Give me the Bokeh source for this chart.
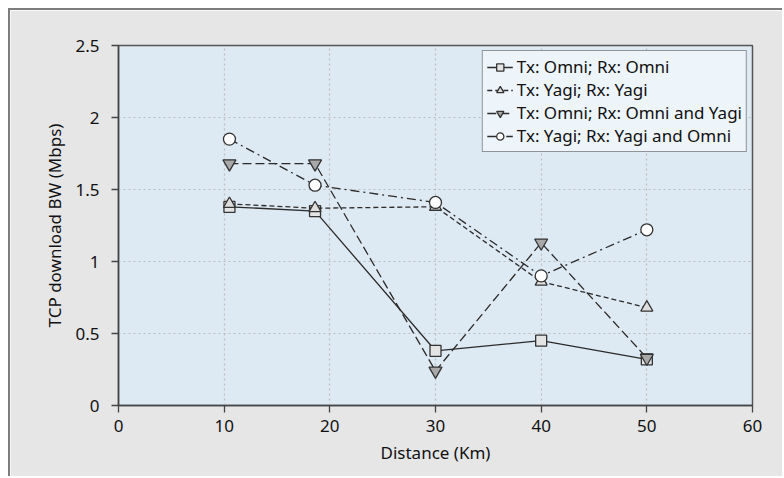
from bokeh.plotting import figure
from bokeh.models import Range1d, FixedTicker
from bokeh.embed import file_html
from bokeh.resources import INLINE

distance = [10.5, 18.6, 30, 40, 50]
omni_omni = [1.38, 1.35, 0.38, 0.45, 0.32]
yagi_yagi = [1.40, 1.37, 1.38, 0.86, 0.68]
omni_omniyagi = [1.68, 1.68, 0.24, 1.13, 0.33]
yagi_yagiomni = [1.85, 1.53, 1.41, 0.90, 1.22]

labels = ["Tx: Omni; Rx: Omni", "Tx: Yagi; Rx: Yagi",
          "Tx: Omni; Rx: Omni and Yagi", "Tx: Yagi; Rx: Yagi and Omni"]
x_ticks = [0, 10, 20, 30, 40, 50, 60]
y_ticks = [0, 0.5, 1, 1.5, 2, 2.5]

FONT = "Noto Sans"
INK = "#2b2b2b"

p = figure(width=774, height=468, output_backend="svg", toolbar_location=None,
           x_range=Range1d(0, 60), y_range=Range1d(0, 2.5),
           min_border_left=108, min_border_right=32, min_border_top=35, min_border_bottom=73)
p.styles = {"margin-left": "8px", "margin-top": "8px",
            "border-left": "2px solid #7d7d7d", "border-top": "2px solid #7d7d7d"}

p.background_fill_color = "#dde9f3"
p.border_fill_color = "#e6e6e7"
p.outline_line_color = "#555555"
p.outline_line_width = 1.5

p.xaxis.ticker = FixedTicker(ticks=x_ticks)
p.yaxis.ticker = FixedTicker(ticks=y_ticks)
for ax in (p.xaxis[0], p.yaxis[0]):
    ax.axis_line_color = "#444444"
    ax.axis_line_width = 1.5
    ax.major_tick_line_color = "#444444"
    ax.major_tick_line_width = 1.3
    ax.major_tick_out = 7
    ax.major_tick_in = 0
    ax.minor_tick_out = 0
    ax.minor_tick_in = 0
    ax.major_label_text_font = FONT
    ax.major_label_text_font_size = "17px"
    ax.major_label_text_color = "#111111"
    ax.axis_label_text_font = FONT
    ax.axis_label_text_font_size = "17px"
    ax.axis_label_text_font_style = "normal"
    ax.axis_label_text_color = "#111111"
p.xaxis.axis_label = "Distance (Km)"
p.yaxis.axis_label = "TCP download BW (Mbps)"
p.xaxis.major_label_standoff = 7
p.yaxis.major_label_standoff = 12
p.xaxis.axis_label_standoff = 6
p.yaxis.axis_label_standoff = 6

for g in (p.xgrid[0], p.ygrid[0]):
    g.grid_line_color = "#bdbdbd"
    g.grid_line_dash = "2 3"
    g.grid_line_width = 1.2

series = [
    (omni_omni, "solid", "square", "#e4e4e4", 11),
    (yagi_yagi, "5 3", "triangle", "#dedede", 12),
    (omni_omniyagi, "9 4", "inverted_triangle", "#a8a8a8", 13),
    (yagi_yagiomni, "9 4 2 4", "circle", "#ffffff", 12),
]
for (vals, dash, marker, fill, size), lab in zip(series, labels):
    p.line(distance, vals, line_color=INK, line_width=1.3, line_dash=dash, legend_label=lab)
    p.scatter(distance, vals, marker=marker, size=size, fill_color=fill,
              line_color="#333333", line_width=1.3, legend_label=lab)

lg = p.legend[0]
lg.location = "top_right"
lg.margin = 5
lg.padding = 4
lg.spacing = 0
lg.glyph_width = 26
lg.glyph_height = 18
lg.label_height = 18
lg.label_standoff = 4
lg.label_text_font = FONT
lg.label_text_font_size = "17px"
lg.label_text_color = "#111111"
lg.background_fill_color = "#edf4fa"
lg.background_fill_alpha = 1
lg.border_line_color = "#333333"
lg.border_line_width = 1.2

open("out.html", "w").write(file_html(p, INLINE))
